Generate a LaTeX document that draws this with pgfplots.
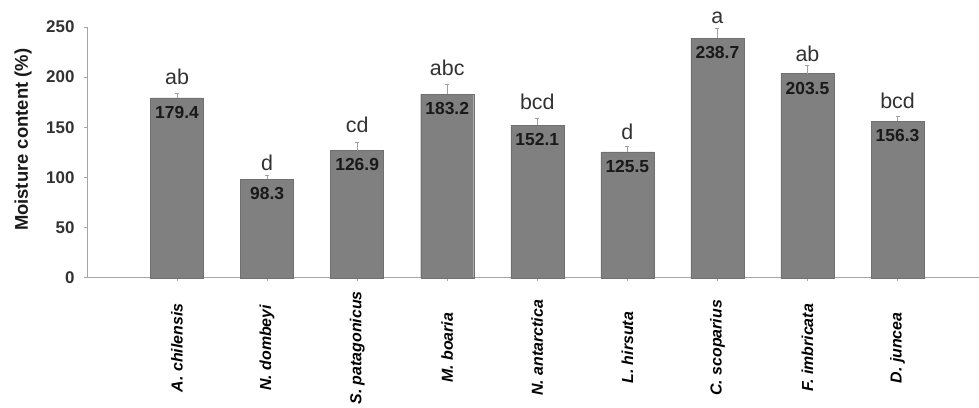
\documentclass[border=0pt]{standalone}
\usepackage{pgfplots}
\usepackage{pgfplotstable}
\pgfplotsset{compat=1.18}
\usepackage{fontspec}
\setmainfont{Liberation Sans}

\definecolor{barfill}{RGB}{128,128,128}
\definecolor{baredge}{RGB}{112,112,112}
\definecolor{axisgray}{RGB}{165,165,165}
\definecolor{errgray}{RGB}{160,160,160}
\definecolor{ticktext}{RGB}{50,50,50}
\definecolor{lettertext}{RGB}{50,50,50}

% x: position, y: moisture content, e: error (upper), ly: baseline of letter
\pgfplotstableread{
x y     e   lab ly
1 179.4 4   ab  193
2 98.3  4   d   107
3 126.9 8   cd  145
4 183.2 10  abc 202
5 152.1 7   bcd 168
6 125.5 5.5 d   138
7 238.7 10  a   253
8 203.5 8   ab  216
9 156.3 5   bcd 169
}\moisture

\begin{document}
\begin{tikzpicture}
\begin{axis}[
    scale only axis,
    width=892bp,
    height=251bp,
    xmin=0, xmax=9.9,
    ymin=0, ymax=250,
    clip=false,
    axis lines=left,
    axis line style={-, axisgray, line width=0.8bp},
    tick align=outside,
    major tick length=3bp,
    tick style={axisgray, line width=0.8bp},
    xtick={1,2,3,4,5,6,7,8,9},
    xticklabels={A. chilensis, N. dombeyi, S. patagonicus, M. boaria, N. antarctica,
                 L. hirsuta, C. scoparius, F. imbricata, D. juncea},
    xticklabel style={yshift=-67bp, rotate=90, anchor=center,
        font=\fontsize{16}{18}\selectfont\bfseries\itshape, text=black},
    ytick={0,50,100,150,200,250},
    yticklabel style={xshift=-6bp, font=\fontsize{17}{20}\selectfont\bfseries, text=ticktext},
    /pgf/number format/assume math mode=true,
    ylabel={Moisture content (\%)},
    ylabel style={at={(axis description cs:-0.0717,0.55)}, anchor=center,
        font=\fontsize{18.5}{21}\selectfont\bfseries, text=black!90},
]
\addplot[ybar, bar width=53bp, bar shift=0pt,
    fill=barfill, draw=baredge, line width=0.4bp,
    nodes near coords, point meta=explicit symbolic,
    nodes near coords style={anchor=north, yshift=-8bp, inner sep=0pt,
        font=\fontsize{17.5}{20}\selectfont\bfseries, text=black!90},
    error bars/.cd, y dir=plus, y explicit,
    error bar style={errgray, line width=0.8bp},
    error mark options={errgray, rotate=90, mark size=2bp, line width=0.8bp}]
    table[x=x, y=y, y error=e, meta=y] {\moisture};
\addplot[draw=none,
    nodes near coords, point meta=explicit symbolic,
    nodes near coords style={anchor=base, inner sep=0pt,
        font=\fontsize{21.5}{24}\selectfont, text=lettertext}]
    table[x=x, y=ly, meta=lab] {\moisture};
\end{axis}
\path (current axis.south west) ++(-87bp,-126bp) rectangle ([yshift=27bp]current axis.north east);
\end{tikzpicture}
\end{document}
